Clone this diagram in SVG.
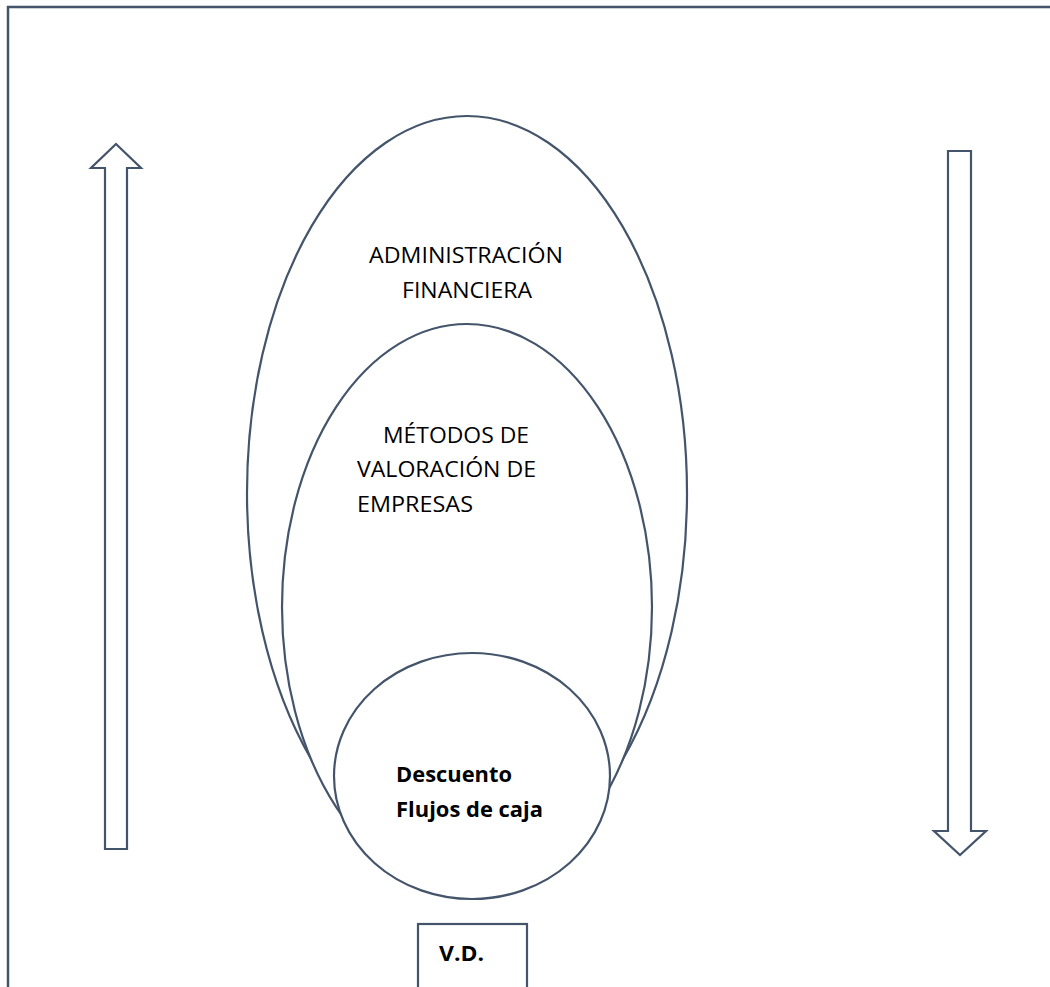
<svg xmlns="http://www.w3.org/2000/svg" width="1050" height="987" viewBox="0 0 1050 987">
  <style>
    .sh { fill: #ffffff; stroke: #44546A; stroke-width: 2.2; }
    .ln { fill: none; stroke: #44546A; stroke-width: 2.5; }
    .t { font-family: "Open Sans", "Noto Sans", "Liberation Sans", sans-serif; font-size: 22px; fill: #000000; }
    .b { font-family: "Open Sans", "Noto Sans", "Liberation Sans", sans-serif; font-size: 21px; font-weight: 700; fill: #000000; }
  </style>
  <rect width="1050" height="987" fill="#ffffff"/>
  <g id="frame">
    <path class="ln" d="M8,990 V7 H1052"/>
  </g>
  <g id="arrows">
    <polygon id="arrow-up" class="sh" points="116,144 141,168 127,168 127,849 105,849 105,168 91,168"/>
    <polygon id="arrow-down" class="sh" points="948,151 971,151 971,831 986,831 960,855 934,831 948,831"/>
  </g>
  <g id="admin-financiera">
    <ellipse class="sh" cx="467" cy="493" rx="220" ry="377"/>
    <text class="t" x="369" y="263" textLength="194" lengthAdjust="spacingAndGlyphs">ADMINISTRACIÓN</text>
    <text class="t" x="402" y="298" textLength="130" lengthAdjust="spacingAndGlyphs">FINANCIERA</text>
  </g>
  <g id="metodos-valoracion">
    <ellipse class="sh" cx="467" cy="607" rx="185" ry="283"/>
    <text class="t" x="383" y="443" textLength="146" lengthAdjust="spacingAndGlyphs">MÉTODOS DE</text>
    <text class="t" x="357" y="477" textLength="179" lengthAdjust="spacingAndGlyphs">VALORACIÓN DE</text>
    <text class="t" x="357" y="512" textLength="116" lengthAdjust="spacingAndGlyphs">EMPRESAS</text>
  </g>
  <g id="descuento-flujos">
    <ellipse class="sh" cx="472" cy="776" rx="138" ry="123"/>
    <text class="b" x="396" y="782" textLength="116" lengthAdjust="spacingAndGlyphs">Descuento</text>
    <text class="b" x="396" y="817" textLength="147" lengthAdjust="spacingAndGlyphs">Flujos de caja</text>
  </g>
  <g id="vd">
    <rect class="sh" x="418" y="924" width="109" height="80"/>
    <text class="b" x="439" y="961" textLength="45" lengthAdjust="spacingAndGlyphs">V.D.</text>
  </g>
</svg>
